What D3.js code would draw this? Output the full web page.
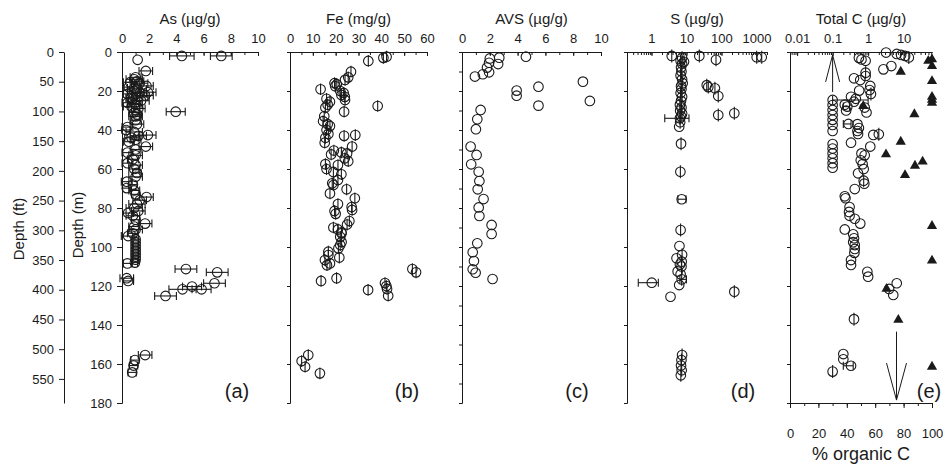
<!DOCTYPE html>
<html>
<head>
<meta charset="utf-8">
<script src="https://cdn.jsdelivr.net/npm/d3@7"></script>
<style>
  body { margin: 0; background: #fff; }
  svg { font-family: "Liberation Sans", Arial, sans-serif; }
  .axis path, .axis line { stroke: #1a1a1a; }
  .axis text { fill: #1a1a1a; font-size: 13px; }
</style>
</head>
<body>
<svg id="chart" width="943" height="466"></svg>
<script>
// ---- data (depth in m) ----
// As: [depth, value, +/- error]
const asPoints = [
  [2, 4.4, 0.9], [2, 7.3, 0.8], [4, 1.15, 0], [9.7, 1.75, 0.5], [13, 1.0, 0.4], [14, 0.9, 0.6],
  [15, 1.1, 0.5], [15.5, 0.6, 0.5], [16, 1.3, 0.6], [17.4, 1.8, 0.5], [18, 0.5, 0.4], [18.5, 0.9, 0.5],
  [19, 1.1, 0.7], [20, 0.9, 0.5], [20.6, 1.9, 0.6], [21, 1.3, 0.5], [21.5, 0.4, 0.3], [22.3, 1.7, 0.6],
  [23, 1.2, 0.7], [23.5, 0.7, 0.4], [24, 0.8, 0.5], [25, 1.4, 0.6], [26, 0.4, 0.4], [26.5, 0.9, 0.5],
  [27, 1.0, 0.5], [28, 0.7, 0.6], [29, 1.2, 0.5], [30.6, 3.95, 0.7], [31, 0.9, 0.4], [32, 1.1, 0.3],
  [33, 1.0, 0.5], [35, 1.0, 0.4], [37, 1.1, 0.5], [38.5, 0.4, 0.4], [40, 0.3, 0.3], [41, 0.9, 0.6],
  [42.6, 1.9, 0.6], [43, 1.2, 0.6], [44, 0.7, 0.5], [45, 1.0, 0.4], [46, 0.5, 0.4], [48.5, 1.75, 0.5],
  [50, 1.0, 0.4], [51.6, 0.4, 0.4], [53, 1.0, 0.5], [55, 0.8, 0.4], [57, 0.4, 0.4], [58, 1.0, 0.5],
  [60, 0.9, 0.4], [62, 1.1, 0.3], [64, 1.0, 0.5], [66.5, 0.35, 0.4], [68, 0.8, 0.3], [69.8, 0.35, 0.3],
  [71, 0.9, 0.4], [73, 1.0, 0.3], [74.4, 1.8, 0.5], [76, 1.3, 0.5], [78, 1.1, 0.6], [80, 0.9, 0.6],
  [81.5, 1.2, 0.5], [82.6, 0.45, 0.4], [84, 0.8, 0.5], [86, 1.0, 0.3], [88, 1.7, 0.5], [89.5, 0.9, 0.4],
  [91, 1.0, 0.5], [93, 0.8, 0.4], [94.4, 0.45, 0.5], [96, 1.0, 0.2], [97.5, 1.0, 0.2], [99, 1.0, 0.2],
  [100.5, 1.0, 0.2], [102, 1.0, 0.2], [103.5, 1.0, 0.2], [105, 1.0, 0.2], [106.5, 1.0, 0.2],
  [108, 0.95, 0.2], [108.4, 0.4, 0.3], [111.3, 4.7, 0.8], [113, 7.0, 0.8], [116, 0.35, 0.5],
  [117.4, 0.45, 0.4], [118.6, 6.8, 0.8], [120.3, 5.15, 0.7], [121.7, 4.45, 1.0], [121.7, 5.85, 0.7],
  [125.1, 3.2, 0.8], [155.4, 1.7, 0.5], [158, 0.95, 0.3], [160.8, 0.85, 0.3], [164.3, 0.75, 0.3]
];

// Fe: [depth, value]
const fePoints = [
  [2.4, 42.3], [3, 40.9], [4.6, 34.3], [10.1, 26.7], [13, 25.5], [14.3, 24.1], [16, 19.5], [16.5, 20.5],
  [17.5, 19.8], [19.1, 13.4], [20, 22], [21, 23.5], [22, 22.5], [23, 24], [24.6, 24.1], [24, 16],
  [25.5, 17.5], [27, 16.5], [28.5, 15.5], [27.7, 38.4], [30.6, 23.7], [33, 15], [35.5, 14.5], [37, 16.5],
  [38, 17.5], [40, 16], [42, 16.8], [44, 15.5], [46.5, 15.2], [42.6, 28.6], [43, 23.7], [48.5, 27.2],
  [50.5, 19.2], [52.5, 18], [51.5, 22.5], [52, 25], [54.5, 24], [56, 25.5], [57.5, 15.5], [60, 16],
  [58, 21], [61.5, 19], [62.7, 22.5], [65.6, 21], [67.3, 18.5], [68.2, 19], [72.5, 17.5], [70.4, 24.8],
  [75, 28.4], [78, 21], [79.5, 27], [81, 27.2], [81.5, 19.5], [83, 20], [86.7, 26], [88.5, 25],
  [90, 19], [91, 21], [92.5, 22.5], [93, 22.6], [94.8, 22], [97.4, 22.6], [99, 22], [100.7, 21.2],
  [102.4, 16.8], [104.1, 16.8], [106.7, 15.3], [108.4, 17.5], [109.3, 16.2], [105.4, 21.6],
  [117.4, 13.6], [116, 20.4], [122, 34.2], [118.5, 41.6], [120, 42.2], [121.5, 42.5], [125, 43],
  [111.3, 53.6], [113, 55.2], [155.4, 8.0], [158.5, 5.1], [161.4, 6.6], [164.8, 13.1]
];
const feDepthHalf = 3;

// AVS: [depth, value]
const avsPoints = [
  [2.4, 4.6], [2.9, 2.68], [3.3, 2.0], [5.5, 1.95], [6.2, 2.6], [8, 1.8], [10.4, 1.95], [11.4, 1.5],
  [12.6, 0.93], [15.2, 8.7], [17.8, 5.5], [19.8, 3.93], [22.4, 3.93], [25.1, 9.2], [27.5, 5.5],
  [29.7, 1.34], [34.5, 1.1], [39.6, 1.0], [48.5, 0.62], [52.8, 1.05], [57.6, 0.66], [61.4, 1.2],
  [66.2, 1.25], [70.4, 1.13], [75.4, 1.55], [79.7, 1.2], [84.1, 1.25], [88.7, 2.13], [93.3, 2.13],
  [98.1, 1.1], [102.7, 0.77], [107.2, 0.86], [111.4, 0.77], [113.2, 0.98], [116.4, 2.2]
];

// S: [depth, value, depth bar 1/0]
const sPoints = [
  [2, 3.8, 1], [2, 23.3, 1], [4, 69.8, 1], [2.7, 1015, 1], [2.7, 1413, 1], [3, 7.5, 1], [4.5, 6.8, 1],
  [5, 8.5, 1], [6, 7.5, 1], [8, 7.0, 1], [10, 7.2, 1], [12, 6.8, 1], [14, 7.5, 1], [16, 7.8, 1],
  [17.5, 7, 1], [19, 7.2, 1], [21, 6.8, 1], [23, 7.5, 1], [25, 7, 1], [27, 6.5, 1], [28.5, 7.2, 1],
  [30, 6.6, 1], [31.5, 7.5, 1], [33, 7, 1], [34, 6.5, 1], [36, 6.6, 1], [38.3, 6.2, 0],
  [17, 38, 1], [18, 42, 1], [18.6, 65, 1], [22.6, 81, 1], [32.3, 81, 1], [31.4, 233, 1],
  [47, 7, 1], [61.4, 6.7, 1], [75.5, 7.3, 0], [91.3, 6.8, 1], [99.5, 6.3, 0], [104, 7.5, 1],
  [105.8, 5.2, 0], [107.5, 7.3, 1], [109, 6.5, 0], [110, 7.2, 1], [112.5, 5.6, 0], [114, 6.8, 0],
  [116.6, 7.3, 1], [119.5, 6.2, 0], [118.3, 1.02, 0], [125.5, 3.5, 0], [122.9, 233, 1],
  [155.4, 7.5, 1], [158, 7.2, 1], [160.8, 7, 1], [163.2, 7.3, 1], [165.8, 6.9, 1]
];
// S horizontal error bars: [depth, low, high]
const sErrBars = [[34, 2.4, 11.8], [75.5, 5.7, 9.7], [116.6, 6.5, 10], [118.3, 0.42, 1.57]];

// Total C: [depth, value, depth bar 1/0]
const tcPoints = [
  [0.3, 3.2, 0], [1, 6.4, 0], [1.5, 8.5, 0], [2, 11, 0], [2.8, 14, 1], [3, 0.55, 0], [3.8, 0.65, 0],
  [4.5, 0.85, 0], [7.2, 4.5, 0], [8.9, 2.7, 0], [10.6, 0.85, 1], [12.3, 0.85, 0], [13.5, 0.4, 0],
  [14.4, 0.6, 0], [17.4, 1.15, 0], [19.5, 1.1, 0], [21.5, 1.2, 1], [19.8, 0.56, 0], [23, 0.33, 0],
  [24, 0.45, 0], [25.5, 0.4, 0], [24.6, 0.1, 0], [27.2, 0.1, 0], [29.7, 0.1, 0], [32.3, 0.1, 0],
  [34.8, 0.1, 0], [37.4, 0.1, 0], [40.5, 0.1, 0], [27, 0.22, 0], [28, 0.26, 0], [30, 0.24, 0],
  [28.5, 0.8, 0], [31, 0.9, 0], [36.9, 0.28, 0], [37, 0.5, 0], [39, 0.55, 0], [40.5, 0.5, 0],
  [42, 0.52, 0], [42.5, 1.4, 0], [42.2, 2.0, 1], [46.5, 0.33, 0], [47.2, 0.1, 0], [49.5, 0.1, 0],
  [52, 0.1, 0], [54.5, 0.1, 0], [57, 0.1, 0], [59.3, 0.1, 0], [48.5, 1.15, 0], [52, 0.65, 0],
  [53, 0.8, 0], [55.5, 0.62, 0], [57.5, 0.7, 0], [60, 0.75, 0], [62.2, 0.52, 0], [66, 0.75, 1],
  [67.5, 0.78, 0], [70.3, 0.42, 0], [74, 0.22, 0], [75, 0.23, 0], [79.5, 0.3, 0], [82, 0.29, 0],
  [84, 0.3, 0], [85.5, 0.42, 0], [88, 0.6, 0], [91, 0.22, 0], [93.5, 0.38, 0], [95.5, 0.4, 0],
  [97.5, 0.38, 0], [99, 0.42, 0], [101, 0.42, 0], [103, 0.41, 0], [106.7, 0.33, 0], [109.2, 0.33, 0],
  [112.7, 0.95, 0], [115.2, 1.0, 0], [118.6, 6.4, 0], [121.5, 3.9, 0], [124.6, 5.1, 0], [137, 0.4, 1],
  [154.9, 0.2, 0], [157.6, 0.2, 0], [160.9, 0.33, 0], [163.9, 0.1, 1]
];
const tcErrBars = [[24.6, 0.1, 1.0], [28, 0.2, 0.3], [36.9, 0.2, 0.33], [160.9, 0.2, 0.38]];

// % organic C: [depth, percent]
const orgPoints = [
  [4.5, 97.4], [3.8, 100], [7.2, 100], [10.1, 78], [14.9, 100], [23, 100], [24.5, 100], [26, 100],
  [27.7, 51.6], [31.9, 87.6], [46, 78], [52.5, 67.6], [56.2, 93.4], [58.3, 88], [63.1, 81],
  [89.2, 100], [107, 100], [121.5, 68], [137.4, 76.3], [161.4, 100]
];
// arrows: up = detection limit on total C, down = on % organic C
const arrowUp = { value: 0.1, from: 20.5, to: 1.5 };
const arrowDown = { value: 75, from: 143.4, to: 178.5 };

const ftTicks = d3.range(0, 551, 50);
const mTicks = d3.range(0, 181, 20);

// ---- layout ----
const ink = "#1a1a1a";
const svg = d3.select("#chart");
const y = d3.scaleLinear().domain([0, 180]).range([52, 403]);
const yFt = d3.scaleLinear().domain([0, 180 * 3.2808]).range([52, 403]);

function logMinor(domain) {
  const out = [];
  for (let e = -4; e <= 4; e++) {
    for (let m = 1; m <= 9; m++) {
      const v = m * Math.pow(10, e);
      if (v >= domain[0] && v <= domain[1]) out.push(v);
    }
  }
  return out;
}

const xa = d3.scaleLinear().domain([0, 10]).range([122, 258]);
const xb = d3.scaleLinear().domain([0, 60]).range([290, 427]);
const xc = d3.scaleLinear().domain([0, 10]).range([462, 601]);
const xd = d3.scaleLog().domain([0.2, 2000]).range([627, 767]);
const xe = d3.scaleLog().domain([0.0063, 63]).range([790, 932]);
const xp = d3.scaleLinear().domain([0, 100]).range([790, 932]);

const panels = [
  { x: xa, title: "As (\u00b5g/g)", major: d3.range(0, 11, 2), minor: d3.range(0, 11, 1), fmt: d3.format("d"), label: "(a)", lx: 237, ticks: mTicks },
  { x: xb, title: "Fe (mg/g)", major: d3.range(0, 61, 10), minor: d3.range(0, 61, 5), fmt: d3.format("d"), label: "(b)", lx: 407, ticks: mTicks },
  { x: xc, title: "AVS (\u00b5g/g)", major: d3.range(0, 11, 2), minor: d3.range(0, 11, 1), fmt: d3.format("d"), label: "(c)", lx: 577, ticks: d3.range(0, 181, 10) },
  { x: xd, title: "S (\u00b5g/g)", major: [1, 10, 100, 1000], minor: logMinor([0.2, 2000]), fmt: d3.format("d"), label: "(d)", lx: 743, ticks: mTicks },
  { x: xe, title: "Total C (\u00b5g/g)", major: [0.01, 0.1, 1, 10], minor: logMinor([0.0063, 63]), fmt: d => String(d), label: "(e)", lx: 929, ticks: mTicks }
];

panels.forEach((p, i) => {
  const r = p.x.range();
  // top axis, ticks pointing down
  svg.append("g").attr("class", "axis").attr("transform", `translate(0,${y(0)})`)
    .call(d3.axisTop(p.x).tickValues(p.minor).tickSize(-3).tickSizeOuter(0).tickFormat(""));
  svg.append("g").attr("class", "axis").attr("transform", `translate(0,${y(0)})`)
    .call(d3.axisTop(p.x).tickValues(p.major).tickSize(-4).tickSizeOuter(0).tickPadding(9).tickFormat(p.fmt));
  // left depth axis
  const left = d3.axisLeft(y).tickValues(p.ticks).tickSizeOuter(0);
  if (i === 0) left.tickSize(5).tickPadding(5);
  else left.tickSize(3).tickFormat("");
  svg.append("g").attr("class", "axis").attr("transform", `translate(${r[0]},0)`).call(left);

  svg.append("text").attr("x", (r[0] + r[1]) / 2).attr("y", 24)
    .attr("text-anchor", "middle").attr("font-size", 15).attr("fill", ink).text(p.title);
  svg.append("text").attr("x", p.lx).attr("y", 398)
    .attr("text-anchor", "middle").attr("font-size", 20).attr("fill", ink).text(p.label);
});

// feet axis
svg.append("g").attr("class", "axis").attr("transform", "translate(64,0)")
  .call(d3.axisLeft(yFt).tickValues(ftTicks).tickSize(5).tickPadding(5).tickSizeOuter(0));

svg.append("text").attr("transform", "translate(18,229) rotate(-90)")
  .attr("text-anchor", "middle").attr("dominant-baseline", "central")
  .attr("font-size", 15).attr("fill", ink).text("Depth (ft)");
svg.append("text").attr("transform", "translate(77,225) rotate(-90)")
  .attr("text-anchor", "middle").attr("dominant-baseline", "central")
  .attr("font-size", 15).attr("fill", ink).text("Depth (m)");

// bottom % organic C axis
svg.append("g").attr("class", "axis").attr("transform", `translate(0,${y(180)})`)
  .call(d3.axisBottom(xp).tickValues(d3.range(0, 101, 10)).tickSize(3).tickSizeOuter(0).tickFormat(""));
svg.append("g").attr("class", "axis").attr("transform", `translate(0,${y(180)})`)
  .call(d3.axisBottom(xp).tickValues(d3.range(0, 101, 20)).tickSize(5).tickSizeOuter(0).tickPadding(21));
svg.append("text").attr("x", 861).attr("y", 460).attr("text-anchor", "middle")
  .attr("font-size", 18).attr("fill", ink).text("% organic C");

const R = 4.8, CAP = 4, BAR = 6.5;

// horizontal error bars with caps
function hBars(g, rows, x) {
  g.selectAll("line.h").data(rows).join("line").attr("class", "h")
    .attr("x1", d => x(d[1])).attr("x2", d => x(d[2])).attr("y1", d => y(d[0])).attr("y2", d => y(d[0]));
  g.selectAll("line.c1").data(rows).join("line").attr("class", "c1")
    .attr("x1", d => x(d[1])).attr("x2", d => x(d[1])).attr("y1", d => y(d[0]) - CAP).attr("y2", d => y(d[0]) + CAP);
  g.selectAll("line.c2").data(rows).join("line").attr("class", "c2")
    .attr("x1", d => x(d[2])).attr("x2", d => x(d[2])).attr("y1", d => y(d[0]) - CAP).attr("y2", d => y(d[0]) + CAP);
}
function vBars(g, rows, x) {
  g.selectAll("line.v").data(rows).join("line").attr("class", "v")
    .attr("x1", d => x(d[1])).attr("x2", d => x(d[1])).attr("y1", d => y(d[0]) - BAR).attr("y2", d => y(d[0]) + BAR);
}
function circles(g, rows, x) {
  g.selectAll("circle").data(rows).join("circle")
    .attr("cx", d => x(d[1])).attr("cy", d => y(d[0])).attr("r", R);
}
function layer() {
  return svg.append("g").attr("fill", "none").attr("stroke", ink).attr("stroke-width", 1.1);
}

// (a) As
const ga = layer();
hBars(ga, asPoints.filter(d => d[2] > 0).map(d => [d[0], d[1] - d[2], d[1] + d[2]]), xa);
circles(ga, asPoints, xa);

// (b) Fe
const gb = layer();
gb.selectAll("line.v").data(fePoints).join("line").attr("class", "v")
  .attr("x1", d => xb(d[1])).attr("x2", d => xb(d[1]))
  .attr("y1", d => y(d[0] - feDepthHalf)).attr("y2", d => y(d[0] + feDepthHalf));
circles(gb, fePoints, xb);

// (c) AVS
const gc = layer();
circles(gc, avsPoints, xc);

// (d) S
const gd = layer();
hBars(gd, sErrBars, xd);
vBars(gd, sPoints.filter(d => d[2]), xd);
circles(gd, sPoints, xd);

// (e) Total C and % organic C
const ge = layer();
hBars(ge, tcErrBars, xe);
vBars(ge, tcPoints.filter(d => d[2]), xe);
circles(ge, tcPoints, xe);

svg.append("g").selectAll("path").data(orgPoints).join("path")
  .attr("d", d3.symbol(d3.symbolTriangle, 45))
  .attr("transform", d => `translate(${xp(d[1])},${y(d[0])})`)
  .attr("fill", ink);

// detection-limit arrows
const ga2 = svg.append("g").attr("fill", "none").attr("stroke", ink).attr("stroke-width", 1);
const ux = xe(arrowUp.value), uy0 = y(arrowUp.from), uy1 = y(arrowUp.to);
ga2.append("line").attr("x1", ux).attr("x2", ux).attr("y1", uy0).attr("y2", uy1);
ga2.append("path").attr("d", `M${ux - 7},${uy1 + 27}L${ux},${uy1}L${ux + 7},${uy1 + 27}`);
const dx = xp(arrowDown.value), dy0 = y(arrowDown.from), dy1 = y(arrowDown.to);
ga2.append("line").attr("x1", dx).attr("x2", dx).attr("y1", dy0).attr("y2", dy1);
ga2.append("path").attr("d", `M${dx - 10},${dy1 - 37}L${dx},${dy1}L${dx + 10},${dy1 - 37}`);
</script>
</body>
</html>
